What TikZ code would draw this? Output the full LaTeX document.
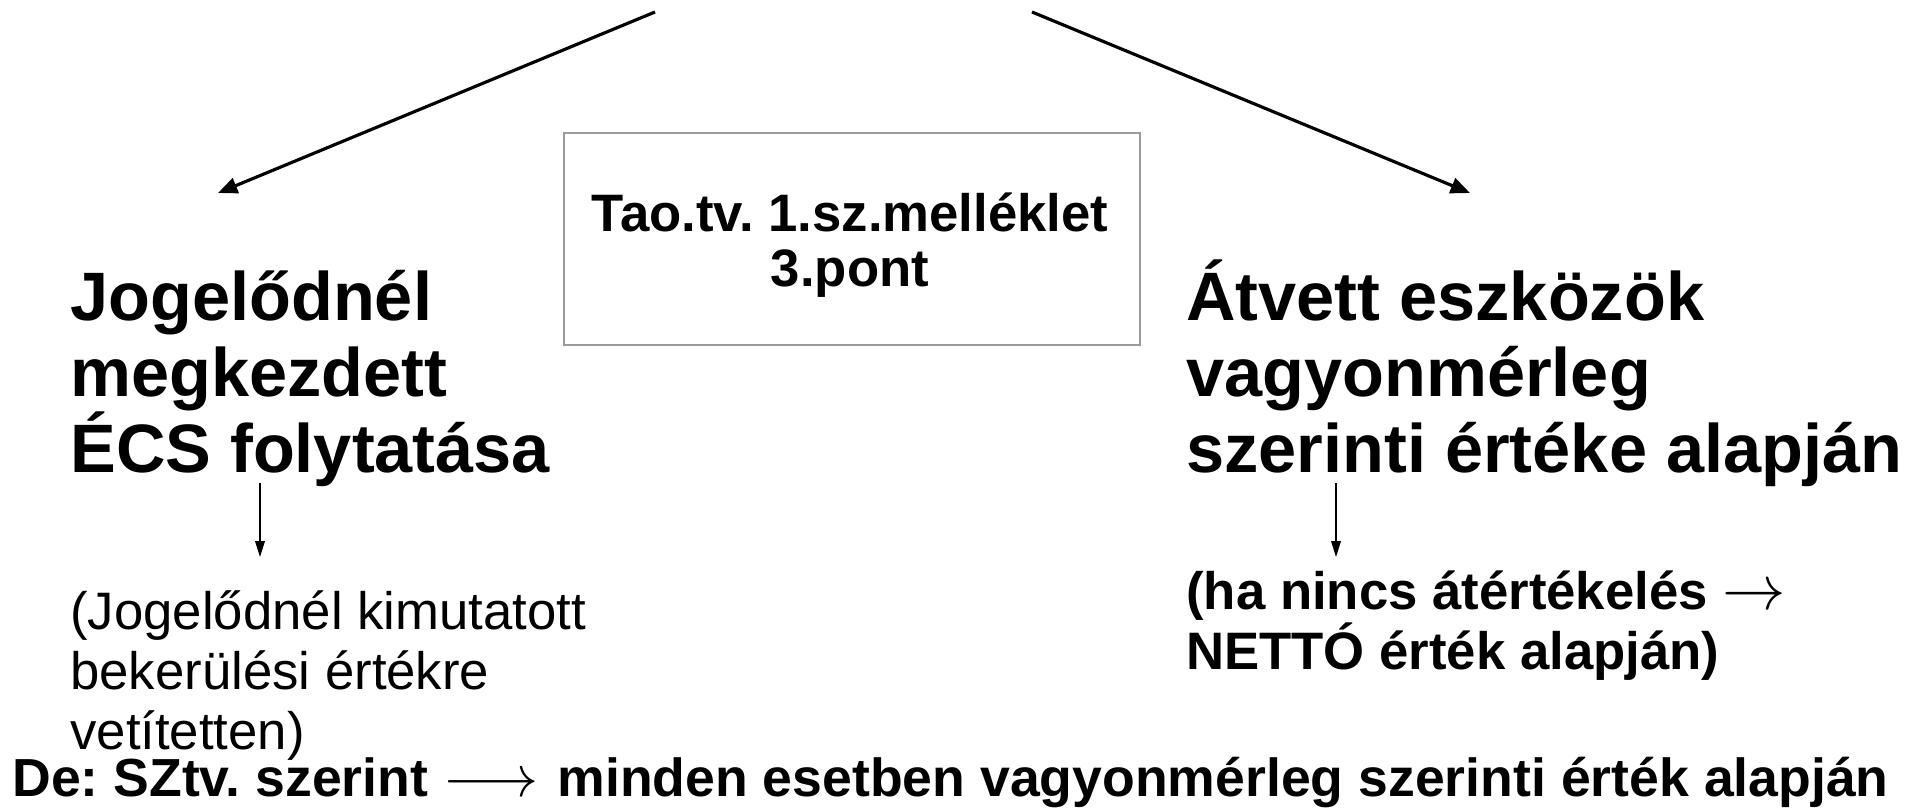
\documentclass[tikz,border=0pt]{standalone}
\usepackage{fontspec}
\usepackage{graphicx}
\setmainfont{Liberation Sans}
\usetikzlibrary{arrows.meta}
\frenchspacing

\tikzset{
  heading/.style={anchor=base west, align=left, inner sep=0pt, font=\fontsize{39}{43}\bfseries},
  note/.style={anchor=base west, align=left, inner sep=0pt, font=\fontsize{30}{34}\selectfont},
  boldnote/.style={note, font=\fontsize{30}{33.6}\bfseries},
  arr/.style={line width=1.8pt, -{Triangle[length=11pt,width=9pt]}},
  smallarr/.style={line width=0.7pt, -{Triangle[length=9pt,width=5.5pt]}}
}

\begin{document}
\begin{tikzpicture}[x=0.02cm,y=-0.02cm]
    \useasboundingbox (0,0) rectangle (1931,808);

    % the law reference in the middle
    \node[draw=gray!80, line width=0.8pt, minimum width=576*0.02cm, minimum height=212*0.02cm] (tao) at (852,239) {};
    \node[align=center, font=\fontsize{30}{31.5}\bfseries] (taotext) at (850,245) {Tao.tv. 1.sz.melléklet\\3.pont};

    % the two ways (anchored at the last line)
    \node[heading] (jog) at (70,472) {Jogelődnél\\megkezdett\\ÉCS folytatása};
    \node[heading] (atv) at (1186,472) {Átvett eszközök\\vagyonmérleg\\szerinti értéke alapján};

    % notes below
    \node[note] (jognote) at (70,749) {(Jogelődnél kimutatott\\bekerülési értékre\\vetítetten)};
    \node[boldnote] (atvnote) at (1186,669) {(ha nincs átértékelés \scalebox{1.45}{$\rightarrow$}\\NETTÓ érték alapján)};

    % bottom line
    \node[anchor=base west, inner sep=0pt, font=\fontsize{30.5}{34}\bfseries] (de) at (12,796)
        {De: SZtv. szerint \scalebox{1.35}{$\longrightarrow$}\hspace{11pt}minden esetben vagyonmérleg szerinti érték alapján};

    % arrows from the top
    \coordinate (topl) at (655,12);
    \coordinate (topr) at (1032,12);
    \coordinate (endl) at (218,193);
    \coordinate (endr) at (1470,193);
    \draw[arr] (topl) -- (endl);
    \draw[arr] (topr) -- (endr);

    % short arrows down to the notes
    \coordinate (dl1) at (260,483);
    \coordinate (dl2) at (260,557);
    \coordinate (dr1) at (1336,483);
    \coordinate (dr2) at (1336,557);
    \draw[smallarr] (dl1) -- (dl2);
    \draw[smallarr] (dr1) -- (dr2);
\end{tikzpicture}
\end{document}
